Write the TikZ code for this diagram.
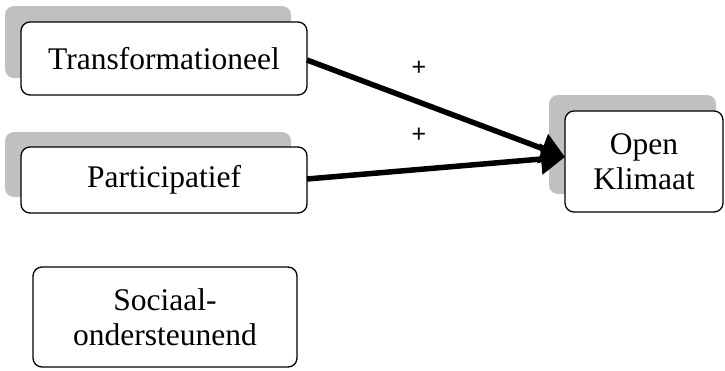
\documentclass[tikz,border=0pt]{standalone}
\usepackage{fontspec}
\setmainfont{Liberation Serif}
\newfontfamily\plusfont{Liberation Sans}
\usetikzlibrary{arrows.meta}
\definecolor{shadowgray}{RGB}{192,192,192}
\tikzset{
  shadowbox/.style={fill=shadowgray, draw=none, rounded corners=9pt},
  mainbox/.style={draw=black, line width=1.3pt, fill=white, rounded corners=9pt,
    align=center, inner sep=0pt, font=\fontsize{31.5}{35}\selectfont},
  link/.style={line width=5.5pt, -{Triangle[length=24pt,width=30pt]}},
  sign/.style={font=\plusfont\fontsize{25}{26}\selectfont, inner sep=0pt}
}
\begin{document}
\begin{tikzpicture}[x=1pt,y=-1pt]
\useasboundingbox (0,0) rectangle (725,370);
% shadows
\fill[shadowbox] (5,6) rectangle (291,78);
\fill[shadowbox] (5,132) rectangle (291,197);
\fill[shadowbox] (549,95) rectangle (716,194);
% boxes
\node[mainbox, minimum width=286pt, minimum height=73pt] (trans) at (164,58.5) {Transformationeel};
\node[mainbox, minimum width=286pt, minimum height=66pt] (part) at (164,180) {Participatief};
\node[mainbox, minimum width=264pt, minimum height=100pt] (soc) at (165,317) {Sociaal-\\ondersteunend};
\node[mainbox, minimum width=158pt, minimum height=101pt] (open) at (644,161.5) {Open\\Klimaat};
\coordinate (tip) at (565,157);
\coordinate (s1) at (307,60);
\coordinate (s2) at (307,179);
\draw[link] (s1) -- (tip);
\draw[link] (s2) -- (tip);
\node[sign] (p1) at (419,68) {+};
\node[sign] (p2) at (419,135) {+};
\end{tikzpicture}
\end{document}
